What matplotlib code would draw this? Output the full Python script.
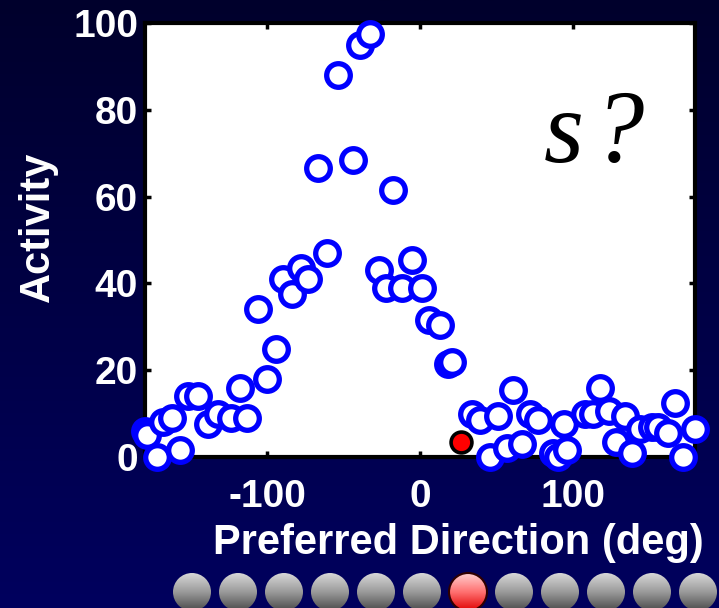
import matplotlib
matplotlib.use('Agg')
import matplotlib.pyplot as plt
import matplotlib.patches as patches
from matplotlib.colors import LinearSegmentedColormap
import numpy as np

plt.rcParams['font.family'] = ['Liberation Sans', 'DejaVu Sans']
plt.rcParams['axes.unicode_minus'] = False

# recorded tuning curve: preferred direction (deg) vs activity
direction = [-180, -179, -172, -168, -162, -157, -152, -145, -139, -132,
             -124, -118, -113, -106, -100, -94, -90, -84, -78, -73,
             -67, -61, -54, -44, -39, -33, -27, -22, -18, -12,
             -5, 1, 6, 13, 18, 21, 34, 39, 46, 51,
             57, 61, 67, 72, 77, 87, 90, 94, 96, 108,
             113, 118, 124, 128, 134, 139, 144, 152, 156, 162,
             167, 172, 180]
activity = [6, 5, 0, 8, 9, 1.5, 14, 14, 7.5, 10,
            9, 16, 9, 34, 18, 25, 41, 37.5, 43.5, 41,
            66.5, 47, 88, 68.5, 95, 97.5, 43, 39, 61.5, 39,
            45.5, 39, 31.5, 30.5, 21.5, 22, 10, 8.5, 0, 9.5,
            2, 15.5, 3, 10, 8.5, 1, 0, 7.5, 1.5, 10,
            10, 16, 10.5, 3.5, 9.5, 1, 6.5, 7, 7, 5.5,
            12.5, 0, 6.5]

# the stimulus direction being asked about
probe_direction = [27]
probe_activity = [3.5]

x_ticks = [-100, 0, 100]
y_ticks = [0, 20, 40, 60, 80, 100]

n_slides = 12
current_slide = 6

W, H = 719, 608
fig = plt.figure(figsize=(W / 100, H / 100), dpi=100)

# dark navy slide background
bg = fig.add_axes([0, 0, 1, 1], zorder=-10)
bg.axis('off')
navy = LinearSegmentedColormap.from_list('navy', ['#00002c', '#00005e'])
grad = np.linspace(0, 1, 256).reshape(-1, 1)
bg.imshow(grad, aspect='auto', cmap=navy, extent=[0, W, H, 0])

# slide navigation buttons along the bottom
grey = LinearSegmentedColormap.from_list('grey', ['#d8d8d8', '#9a9a9a', '#4a4a4a'])
pink = LinearSegmentedColormap.from_list('pink', ['#ffd0d0', '#ff7070', '#e00000'])
for i in range(n_slides):
    cx, cy, r = 192 + i * 46.0, 592, 19
    cmap = pink if i == current_slide else grey
    im = bg.imshow(grad, aspect='auto', cmap=cmap,
                   extent=[cx - r, cx + r, cy + r, cy - r])
    circ = patches.Circle((cx, cy), r, transform=bg.transData,
                          facecolor='none',
                          edgecolor='#300000' if i == current_slide else 'none',
                          lw=1.5)
    bg.add_patch(circ)
    im.set_clip_path(circ)
bg.set_xlim(0, W)
bg.set_ylim(H, 0)

# main plot
ax = fig.add_axes([145 / W, 1 - 457 / H, 550 / W, 434 / H])
ax.set_facecolor('white')
ax.plot(direction, activity, 'o', ms=17, mew=3.8, mec='#0000ff',
        mfc='white', clip_on=False, zorder=3)
ax.plot(probe_direction, probe_activity, 'o', ms=15, mew=2.6, mec='black',
        mfc='red', clip_on=False, zorder=4)

ax.set_xlim(-180, 180)
ax.set_ylim(0, 100)
ax.set_xticks(x_ticks)
ax.set_yticks(y_ticks)
ax.tick_params(direction='in', length=4, width=2.5, top=True, right=True,
               labelcolor='white', labelsize=28)
ax.tick_params(axis='x', pad=16)
ax.tick_params(axis='y', pad=5)
for lbl in ax.get_xticklabels() + ax.get_yticklabels():
    lbl.set_fontweight('bold')
for sp in ax.spines.values():
    sp.set_color('black')
    sp.set_linewidth(3)

ax.set_xlabel('Preferred Direction (deg)', color='white', fontsize=30,
              fontweight='bold', va='center')
ax.xaxis.set_label_coords(0.569, -0.198)
ax.set_ylabel('Activity', color='white', fontsize=30, fontweight='bold',
              va='center')
ax.yaxis.set_label_coords(-0.195, 0.53)

ax.text(81, 68, 's', fontfamily='Liberation Serif', style='italic',
        fontsize=74, ha='left', va='baseline', color='black')
ax.text(113, 68, '?', fontfamily='Liberation Serif', style='italic',
        fontsize=74, ha='left', va='baseline', color='black')

fig.savefig('out.png', dpi=100)
